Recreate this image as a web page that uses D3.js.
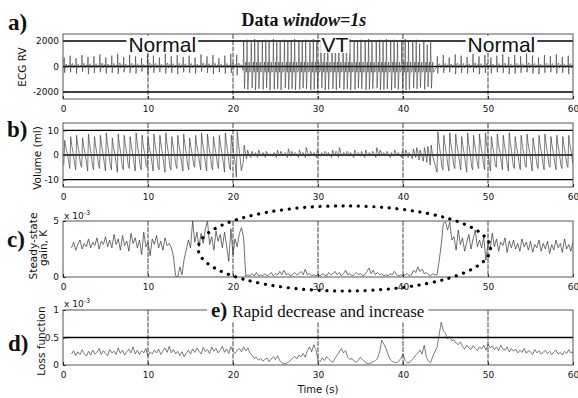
<!DOCTYPE html>
<html>
<head>
<meta charset="utf-8">
<script src="https://cdn.jsdelivr.net/npm/d3@7"></script>
<style>
  body { margin: 0; background: #fff; }
  svg { display: block; }
  .tick text { font-family: "DejaVu Sans", sans-serif; font-size: 9px; fill: #111; }
</style>
</head>
<body>
<svg id="fig" width="578" height="398"></svg>
<script>
// ---- beat timing (s) ----
const beatsNormal1 = [0.1,0.8,1.5,2.2,2.9,3.6,4.3,5.0,5.7,6.4,7.1,7.8,8.5,9.2,9.9,10.6,11.3,12.0,12.7,13.4,14.1,14.8,15.5,16.2,16.9,17.6,18.3,19.0,19.7,20.4];
const beatsVT = [21.2,21.6,22.1,22.5,22.9,23.4,23.8,24.2,24.7,25.1,25.5,26.0,26.4,26.8,27.2,27.7,28.1,28.5,29.0,29.4,29.8,30.3,30.7,31.1,31.6,32.0,32.4,32.9,33.3,33.7,34.2,34.6,35.0,35.5,35.9,36.3,36.8,37.2,37.6,38.0,38.5,38.9,39.3,39.8,40.2,40.6,41.1,41.5,41.9,42.4,42.8,43.2];
const beatsNormal2 = [44.0,44.7,45.4,46.1,46.8,47.5,48.2,48.9,49.6,50.3,51.0,51.7,52.4,53.1,53.8,54.5,55.2,55.9,56.6,57.3,58.0,58.7,59.4];

// ---- a) ECG RV peaks per beat ----
const ecgUp1 = [700,850,650,900,750,800,950,700,850,1000,750,900,800,650,950,850,700,1000,800,900,750,850,700,950,800,900,650,850,1000,900];
const ecgDn1 = [-500,-450,-550,-400,-600,-500,-450,-550,-500,-600,-450,-500,-550,-400,-600,-500,-450,-550,-500,-600,-450,-500,-550,-400,-500,-600,-450,-550,-500,-700];
const ecgUpVT = [2000,2100,1900,2150,2050,1950,2100,2000,2150,1900,2050,2100,2000,1950,2150,2050,2000,2100,1900,2150,2050,2000,2100,1950,2150,2050,1900,2100,2000,2150,2050,1950,2100,2000,2150,1900,2050,2100,1950,2150,2000,2100,1900,2050,2150,2000,1950,2100,1800,2050,1700,1900];
const ecgDnVT = [-1750,-1800,-1700,-1850,-1750,-1800,-1700,-1850,-1800,-1750,-1850,-1700,-1800,-1750,-1850,-1800,-1700,-1750,-1850,-1800,-1750,-1700,-1850,-1800,-1750,-1850,-1700,-1800,-1750,-1850,-1800,-1700,-1750,-1850,-1800,-1750,-1700,-1850,-1800,-1750,-1850,-1700,-1800,-1750,-1850,-1800,-1700,-1750,-1650,-1800,-1600,-1700];
const ecgUp2 = [800,900,700,950,850,750,1000,800,900,700,850,950,750,900,800,1000,850,700,900,800,950,750,850];
const ecgDn2 = [-550,-500,-450,-600,-500,-550,-450,-600,-500,-550,-450,-500,-600,-550,-500,-450,-550,-600,-500,-450,-550,-500,-600];

// ---- b) volume (ml) peak / trough per beat ----
const volPeak1 = [6,7.5,8,7,8.5,7.5,8,9,7,8.5,8,7.5,9,8,7,8.5,8,9,7.5,8,8.5,7,8,9,8.5,7.5,8,9,8,9.5];
const volTrough1 = [-4,-5.5,-6,-5,-6.5,-6,-5.5,-6.5,-6,-7,-6,-5.5,-6.5,-6,-5,-6.5,-6,-7,-6,-5.5,-6.5,-6,-5,-6,-6.5,-6,-5.5,-7,-6,-9];
const volPeakVT = [4,2,1.5,1,2,1,1.5,0.5,1,2,1.5,1,2.5,1.5,1,2,1,3,1.5,1,2,1,1.5,1,2,1.5,3,1,1.5,1,2,1,1.5,2,1,1.5,3,2,1,1.5,1,2,1,1.5,2,1,2.5,3,2,3,3.5,4];
const volTroughVT = [-3,-1.5,-1,-0.5,-1,-0.5,-1,0,-0.5,-1,-0.5,0,-1,-0.5,0,-1,-0.5,-1,-0.5,0,-1,-0.5,0,-0.5,-1,0,-1,-0.5,0,-0.5,-1,0,-0.5,-1,-0.5,0,-1,-0.5,0,-0.5,-1,-0.5,0,-1,-0.5,-1,-1.5,-1,-2,-2.5,-3,-4];
const volPeak2 = [9.5,8,9,8.5,7.5,9,8,8.5,9,7.5,8.5,8,9,7.5,8,8.5,7,8,8.5,7.5,8,7.5,8];
const volTrough2 = [-7,-6,-6.5,-5.5,-6,-7,-6,-5.5,-6,-6.5,-5,-6,-6.5,-5.5,-6,-5,-6.5,-5.5,-6,-5,-6,-5.5,-5];

// ---- c), d) identified values, one per 0.25 s from t = 1 s ----
const estStart = 1, estStep = 0.25;
const gainK = [
  2.6,3.1,2.4,2.9, 3.3,2.5,3.0,2.7, 3.4,2.6,3.1,2.8, 3.5,2.5,3.2,2.9, 3.6,2.7,3.3,2.6,
  3.8,2.9,3.4,2.4, 3.7,2.8,3.2,2.3, 3.9,3.0,3.5,2.6, 3.3,2.0,4.0,2.7, 3.1,1.9,3.4,2.9,
  3.7,2.6,3.2,2.4, 3.5,2.8,3.0,2.6, 1.8,0.1,0.0,0.9, 0.2,1.6,2.4,3.3, 2.6,5.0,3.1,4.0,
  2.7,3.9,3.0,4.3, 5.0,2.9,3.6,2.4, 4.1,3.2,3.8,2.6, 4.0,2.8,1.4,4.3, 2.0,3.4,2.7,3.9,
  4.4,3.5,0.1,0.2, 0.1,0.3,0.1,0.4, 0.1,0.2,0.1,0.3, 0.1,0.2,0.4,0.1, 0.3,0.2,0.5,0.2,
  0.6,0.2,0.3,0.1, 0.2,0.4,0.2,0.3, 0.5,0.2,0.7,0.2, 0.3,0.1,0.2,0.1, 0.2,0.1,0.3,0.2,
  0.1,0.4,0.2,0.3, 0.5,0.2,0.4,0.1, 0.3,0.6,0.2,0.3, 0.1,0.2,0.4,0.2, 0.3,0.1,0.2,0.5,
  0.8,0.3,0.6,0.2, 0.4,0.2,0.3,0.1, 0.2,0.1,0.3,0.2, 0.5,0.2,0.1,0.2, 0.1,0.2,0.3,0.1,
  0.2,0.6,0.4,0.9, 0.5,0.7,0.3,0.4, 0.2,0.1,0.3,0.2, 0.2,1.4,2.9,4.8, 4.9,4.2,4.9,3.3,
  3.6,2.4,4.2,2.9, 3.5,2.3,3.1,3.8, 2.5,3.4,4.2,2.7, 3.3,2.6,3.6,1.5, 3.0,2.4,3.9,2.7,
  3.4,2.3,3.1,2.8, 3.5,2.2,3.2,2.6, 3.3,2.5,3.0,2.3, 3.4,2.7,3.1,2.4, 3.2,2.2,2.9,2.6,
  3.3,2.3,3.0,2.5, 3.2,2.1,2.9,2.4, 3.3,2.6,3.0,2.2, 3.4,2.5,2.9,2.3, 3.2
];
const lossFn = [
  0.20,0.26,0.17,0.24, 0.19,0.28,0.21,0.16, 0.25,0.18,0.27,0.20, 0.23,0.30,0.19,0.26,
  0.21,0.17,0.28,0.22, 0.25,0.19,0.31,0.21, 0.27,0.18,0.24,0.29, 0.22,0.33,0.20,0.27,
  0.19,0.26,0.22,0.30, 0.16,0.24,0.20,0.27, 0.22,0.29,0.19,0.25, 0.31,0.23,0.34,0.22,
  0.28,0.20,0.25,0.17, 0.24,0.15,0.21,0.27, 0.20,0.29,0.23,0.31, 0.25,0.20,0.32,0.24,
  0.28,0.21,0.33,0.25, 0.30,0.22,0.27,0.34, 0.23,0.29,0.21,0.33, 0.25,0.21,0.27,0.30,
  0.24,0.33,0.26,0.31, 0.22,0.18,0.12,0.14, 0.09,0.12,0.07,0.10, 0.13,0.06,0.11,0.15,
  0.10,0.17,0.08,0.04, 0.02,0.03,0.05,0.09, 0.12,0.16,0.11,0.18, 0.15,0.21,0.14,0.26,
  0.33,0.24,0.37,0.28, 0.10,0.06,0.13,0.08, 0.15,0.11,0.07,0.05, 0.12,0.18,0.24,0.30,
  0.22,0.26,0.14,0.10, 0.12,0.07,0.05,0.09, 0.14,0.10,0.06,0.03, 0.02,0.04,0.06,0.08,
  0.12,0.24,0.45,0.38, 0.30,0.18,0.10,0.06, 0.05,0.04,0.07,0.12, 0.20,0.08,0.04,0.05,
  0.08,0.13,0.18,0.22, 0.27,0.20,0.36,0.14, 0.07,0.04,0.16,0.24, 0.32,0.55,0.78,0.62,
  0.58,0.47,0.52,0.44, 0.46,0.40,0.37,0.42, 0.34,0.29,0.36,0.31, 0.28,0.35,0.30,0.26,
  0.33,0.29,0.36,0.27, 0.38,0.31,0.35,0.28, 0.33,0.26,0.36,0.29, 0.27,0.33,0.24,0.30,
  0.25,0.29,0.22,0.27, 0.23,0.30,0.21,0.26, 0.24,0.19,0.28,0.22, 0.26,0.20,0.23,0.27,
  0.21,0.25,0.19,0.24, 0.27,0.20,0.23,0.18, 0.25,0.21,0.28,0.22, 0.24
];

// ---- axes ----
const xTicks = [0,10,20,30,40,50,60];
const xGrid = [10,20,30,40,50];
const ticksA = [-2000,0,2000];
const ticksB = [-10,0,10];
const ticksC = [0,5];
const ticksD = [0,0.5,1];

const svg = d3.select('#fig');
const x = d3.scaleLinear().domain([0, 60]).range([63, 573]);
const L = x.range()[0], R = x.range()[1];

function panel(id, top, bottom, domain, ticks, fmt) {
  const y = d3.scaleLinear().domain(domain).range([bottom, top]);
  const g = svg.append('g').attr('id', id);
  g.append('clipPath').attr('id', 'clip-' + id)
    .append('rect').attr('x', L).attr('y', top).attr('width', R - L).attr('height', bottom - top);
  // vertical grid
  g.selectAll('line.vg').data(xGrid).join('line').attr('class', 'vg')
    .attr('x1', d => x(d)).attr('x2', d => x(d)).attr('y1', top).attr('y2', bottom)
    .attr('stroke', '#111').attr('stroke-width', 0.8).attr('stroke-dasharray', '5,1.2');
  // horizontal grid
  g.selectAll('line.hg').data(ticks.filter(t => y(t) > top + 1 && y(t) < bottom - 1)).join('line').attr('class', 'hg')
    .attr('x1', L).attr('x2', R).attr('y1', d => y(d)).attr('y2', d => y(d))
    .attr('stroke', '#000').attr('stroke-width', 1.3);
  const plot = g.append('g').attr('clip-path', `url(#clip-${id})`);
  // frame
  g.append('rect').attr('x', L).attr('y', top).attr('width', R - L).attr('height', bottom - top)
    .attr('fill', 'none').attr('stroke', '#555').attr('stroke-width', 1);
  // axes
  const ax = g.append('g').attr('transform', `translate(0,${bottom})`)
    .call(d3.axisBottom(x).tickValues(xTicks).tickSizeInner(-3).tickSizeOuter(0).tickPadding(7).tickFormat(d3.format('d')));
  ax.select('.domain').remove();
  const ay = g.append('g').attr('transform', `translate(${L},0)`)
    .call(d3.axisLeft(y).tickValues(ticks).tickSizeInner(-3).tickSizeOuter(0).tickPadding(4).tickFormat(fmt));
  ay.select('.domain').remove();
  g.selectAll('.tick line').attr('stroke', '#333');
  return { y, g, plot, top, bottom };
}

const fmtInt = d => (d < 0 ? '-' : '') + Math.abs(d);
const pA = panel('a', 34, 99, [-2550, 2550], ticksA, fmtInt);
const pB = panel('b', 123, 187, [-13, 13], ticksB, fmtInt);
const pC = panel('c', 221, 277, [0, 5], ticksC, fmtInt);
const pD = panel('d', 310, 365, [0, 1], ticksD, d => String(d));

// ---- build traces ----
function ecgPoints() {
  const pts = [];
  beatsNormal1.forEach((t, i) => {
    const u = ecgUp1[i], n = ecgDn1[i];
    pts.push([t, 0], [t + 0.04, u], [t + 0.09, n], [t + 0.15, 60], [t + 0.3, u * 0.28], [t + 0.42, -u * 0.12], [t + 0.55, u * 0.15], [t + 0.64, 0]);
  });
  beatsVT.forEach((t, i) => {
    const u = ecgUpVT[i], n = ecgDnVT[i];
    pts.push([t, -300], [t + 0.05, u], [t + 0.15, n], [t + 0.24, -250], [t + 0.3, 350], [t + 0.37, -450]);
  });
  beatsNormal2.forEach((t, i) => {
    const u = ecgUp2[i], n = ecgDn2[i];
    pts.push([t, 0], [t + 0.04, u], [t + 0.09, n], [t + 0.15, 60], [t + 0.3, u * 0.28], [t + 0.42, -u * 0.12], [t + 0.55, u * 0.15], [t + 0.64, 0]);
  });
  return pts;
}
function volPoints() {
  const pts = [];
  beatsNormal1.forEach((t, i) => {
    const p = volPeak1[i], q = volTrough1[i];
    pts.push([t, q], [t + 0.1, p], [t + 0.22, p * 0.55], [t + 0.4, (p + q) * 0.3], [t + 0.58, q * 0.7]);
  });
  beatsVT.forEach((t, i) => {
    const p = volPeakVT[i], q = volTroughVT[i];
    pts.push([t, q], [t + 0.12, p], [t + 0.27, (p + q) * 0.5]);
  });
  beatsNormal2.forEach((t, i) => {
    const p = volPeak2[i], q = volTrough2[i];
    pts.push([t, q], [t + 0.1, p], [t + 0.22, p * 0.55], [t + 0.4, (p + q) * 0.3], [t + 0.58, q * 0.7]);
  });
  return pts;
}
const sampled = arr => arr.map((v, i) => [estStart + i * estStep, v]);

function trace(p, pts, w, col) {
  p.plot.append('path').datum(pts)
    .attr('d', d3.line().x(d => x(d[0])).y(d => p.y(d[1])))
    .attr('fill', 'none').attr('stroke', col).attr('stroke-width', w).attr('stroke-linejoin', 'round');
}
trace(pA, ecgPoints(), 0.6, '#3a3a3a');
trace(pB, volPoints(), 0.7, '#444');
trace(pC, sampled(gainK), 0.7, '#333');
trace(pD, sampled(lossFn), 0.7, '#444');

// ---- text ----
const serif = '"Liberation Serif", "Times New Roman", serif';
const sans = '"Liberation Sans", Arial, sans-serif';
const dv = '"DejaVu Sans", sans-serif';

function boxedText(xp, yp, str, size, pad) {
  const t = svg.append('text').attr('x', xp).attr('y', yp).attr('font-family', sans)
    .attr('font-size', size).attr('fill', '#111').text(str);
  const b = t.node().getBBox();
  svg.insert('rect', () => t.node())
    .attr('x', b.x - pad).attr('y', yp - size * 0.72 - 1).attr('width', b.width + 2 * pad).attr('height', size * 0.72 + 2)
    .attr('fill', '#fff');
  return t;
}
boxedText(x(7.7), 52, 'Normal', 21, 2);
boxedText(x(30.4), 52, 'VT', 21, 1);
boxedText(x(47.6), 52, 'Normal', 21, 2);

// title
const title = svg.append('text').attr('x', 304).attr('y', 26).attr('text-anchor', 'middle')
  .attr('font-family', serif).attr('font-size', 18).attr('font-weight', 'bold').attr('fill', '#111');
title.append('tspan').text('Data ');
title.append('tspan').attr('font-style', 'italic').text('window=1s');

// panel letters
[['a)', 8, 30], ['b)', 7, 137], ['c)', 7, 247], ['d)', 8, 351]].forEach(([s, xx, yy]) => {
  svg.append('text').attr('x', xx).attr('y', yy).attr('font-family', serif).attr('font-size', 23)
    .attr('font-weight', 'bold').attr('fill', '#111').text(s);
});

// y-axis labels
function ylab(str, cx, cy, size) {
  svg.append('text').attr('transform', `translate(${cx},${cy}) rotate(-90)`).attr('text-anchor', 'middle')
    .attr('font-family', dv).attr('font-size', size).attr('fill', '#111').text(str);
}
ylab('ECG RV', 26, 67, 10.5);
ylab('Volume (ml)', 41, 158, 10.5);
ylab('Steady-state', 37, 246, 10.5);
ylab('gain, K', 47, 248, 10.5);
ylab('Loss function', 45, 341, 10.5);

// exponent labels
function expo(yp) {
  const t = svg.append('text').attr('x', 64).attr('y', yp).attr('font-family', dv).attr('font-size', 9).attr('fill', '#111');
  t.append('tspan').text('x 10');
  t.append('tspan').attr('dy', -4).attr('font-size', 6.5).text('-3');
}
expo(219);
expo(307);

// x label
svg.append('text').attr('x', 318).attr('y', 393).attr('text-anchor', 'middle')
  .attr('font-family', dv).attr('font-size', 10).attr('fill', '#111').text('Time (s)');

// annotation e)
const ann = svg.append('text').attr('x', 211).attr('y', 317).attr('font-family', serif).attr('fill', '#111');
ann.append('tspan').attr('font-size', 21).attr('font-weight', 'bold').text('e)');
ann.append('tspan').attr('font-size', 17).attr('dx', 5).text('Rapid decrease and increase');
const ab = ann.node().getBBox();
svg.insert('rect', () => ann.node()).attr('x', ab.x - 4).attr('y', ab.y).attr('width', ab.width + 8).attr('height', ab.height)
  .attr('fill', '#fff');

// dotted ellipse around the VT interval in c)
const ellC = { t: 33.1, k: 2.55, dt: 17.2, dk: 3.8 };
svg.append('ellipse')
  .attr('cx', x(ellC.t)).attr('cy', pC.y(ellC.k))
  .attr('rx', x(ellC.t + ellC.dt) - x(ellC.t)).attr('ry', pC.y(0) - pC.y(ellC.dk))
  .attr('fill', 'none').attr('stroke', '#000').attr('stroke-width', 3.2)
  .attr('stroke-linecap', 'round').attr('stroke-dasharray', '0.1,7.6');
</script>
</body>
</html>
